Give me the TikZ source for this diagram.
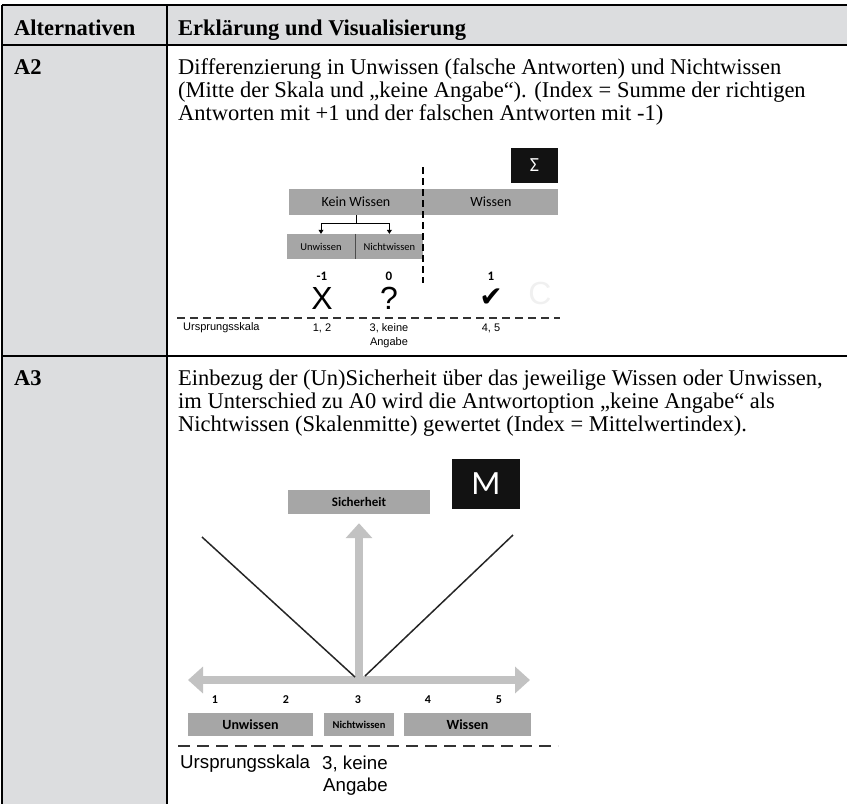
\documentclass[tikz,border=0pt]{standalone}
\usepackage{fontspec}
\setmainfont{Liberation Serif}
\newfontfamily\calib{Carlito}
\newfontfamily\arial{Liberation Sans}
\newfontfamily\dejavu{DejaVu Sans}
\usetikzlibrary{arrows.meta,positioning}

\definecolor{hdgray}{HTML}{DCDDDF}
\definecolor{bargray}{HTML}{A6A6A6}
\definecolor{arrgray}{HTML}{C2C2C2}

\begin{document}
\begin{tikzpicture}[x=1pt,y=-1pt,>={Triangle[width=5pt,length=4pt]},
   txt/.style={anchor=base west,inner sep=0pt,font=\fontsize{22.5}{23.3}\selectfont},
   hd/.style={txt,font=\fontsize{22.5}{23.3}\selectfont\bfseries},
   tab/.style={line width=1.2pt,black},
   bar/.style={fill=bargray,inner sep=0pt,font=\calib\fontsize{14}{14}\selectfont},
   sbar/.style={bar,font=\calib\fontsize{10.5}{10.5}\selectfont},
   bbar/.style={bar,font=\calib\fontsize{14}{14}\selectfont\bfseries},
   blk/.style={fill=black!93,text=white,inner sep=0pt},
   lbl/.style={inner sep=0pt,font=\arial\fontsize{11}{13}\selectfont},
   num/.style={inner sep=0pt,font=\calib\fontsize{13}{13}\selectfont\bfseries},
   big/.style={inner sep=0pt,font=\arial\fontsize{32}{32}\selectfont},
   garrow/.style={arrgray,line width=8pt,-{Triangle[width=26pt,length=15pt]}},
   vline/.style={line width=1.5pt,black!85}]
   \useasboundingbox (0,0) rectangle (847,804);

   % table
   \fill[hdgray] (2,5) rectangle (847,45);
   \fill[hdgray] (2,45) rectangle (167,804);
   \draw[tab] (2,5) -- (847,5);
   \draw[tab] (2,45) -- (847,45);
   \draw[tab] (2,356) -- (847,356);
   \draw[tab] (2,5) -- (2,804);
   \draw[tab] (167,5) -- (167,804);

   \node[hd] (halt) at (14,35)  {Alternativen};
   \node[hd] (herk) at (178,35) {Erklärung und Visualisierung};

   % A2
   \node[hd]  (a2)   at (14,74)    {A2};
   \node[txt] (a2l1) at (178,74)   {Differenzierung in Unwissen (falsche Antworten) und Nichtwissen};
   \node[txt] (a2l2) at (178,97.3) {(Mitte der Skala und „keine Angabe“). (Index = Summe der richtigen};
   \node[txt] (a2l3) at (178,120.6){Antworten mit +1 und der falschen Antworten mit -1)};

   \node[blk,minimum width=47,minimum height=35,font=\calib\fontsize{20}{20}\selectfont]
        (sig) at (534.5,165.5) {Σ};
   \node[bar,minimum width=134,minimum height=26] (kw) at (356,202) {Kein Wissen};
   \node[bar,minimum width=135,minimum height=26,right=0pt of kw] (w) {Wissen};
   \node[sbar,minimum width=68,minimum height=25] (uw) at (321,246.5) {Unwissen};
   \node[sbar,minimum width=68,minimum height=25,right=0pt of uw] (nw) {Nichtwissen};
   \draw[black!70,line width=0.8pt] (uw.north east) -- (uw.south east);
   \draw[line width=2.5pt,dash pattern=on 7pt off 4pt] (423,167) -- (423,283);

   \draw[line width=0.8pt] (kw.south) -- ++(0,8) coordinate (br);
   \draw[->,line width=0.8pt] (br) -| (uw.north);
   \draw[->,line width=0.8pt] (br) -| (nw.north);

   \node[num] (m1) at (322,276) {-1};
   \node[num] (m0) at (389,276) {0};
   \node[num] (p1) at (491,276) {1};
   \node[big] (kx) at (322,298) {X};
   \node[big] (kq) at (389,298) {?};
   \node[big,font=\dejavu\fontsize{28}{28}\selectfont] (kok) at (491,298) {✔};
   \node[big,text=black!6] (kc) at (540,293) {C};

   \draw[black!80,line width=1.5pt,dash pattern=on 8pt off 5pt] (177,318) -- (560,318);
   \node[lbl,anchor=west] (us2) at (183,328) {Ursprungsskala};
   \node[lbl] (s12) at (322,328) {1, 2};
   \node[lbl] (s3)  at (389,328) {3, keine};
   \node[lbl] (s3b) at (389,343) {Angabe};
   \node[lbl] (s45) at (491,328) {4, 5};

   % A3
   \node[hd]  (a3)   at (14,385)    {A3};
   \node[txt] (a3l1) at (178,385)   {Einbezug der (Un)Sicherheit über das jeweilige Wissen oder Unwissen,};
   \node[txt] (a3l2) at (178,408.3) {im Unterschied zu A0 wird die Antwortoption „keine Angabe“ als};
   \node[txt] (a3l3) at (178,431.6) {Nichtwissen (Skalenmitte) gewertet (Index = Mittelwertindex).};

   \node[blk,minimum width=68,minimum height=50,font=\calib\fontsize{34}{34}\selectfont]
        (mw) at (486,484) {M};
   \node[bar,minimum width=142,minimum height=24,font=\calib\fontsize{13}{13}\selectfont\bfseries]
        (sh) at (359,502) {Sicherheit};

   \coordinate (al) at (188,680);
   \coordinate (ar) at (530,680);
   \coordinate (ao) at (359,680);
   \draw[garrow,{Triangle[width=26pt,length=15pt]}-{Triangle[width=26pt,length=15pt]}] (al) -- (ar);
   \draw[garrow,shorten >=9pt] (ao) -- (sh.south);

   \coordinate (vl) at (202,537);
   \coordinate (vr) at (513,535);
   \coordinate (vlb) at (355,677);
   \coordinate (vrb) at (365,676);
   \draw[vline] (vl) -- (vlb);
   \draw[vline] (vr) -- (vrb);

   \foreach \n/\x in {1/215,2/286,3/358,4/428,5/499}
      \node[num,font=\calib\fontsize{12}{12}\selectfont\bfseries] (n\n) at (\x,700) {\n};

   \node[bbar,minimum width=125,minimum height=23] (uw3) at (250.5,724.5) {Unwissen};
   \node[bbar,minimum width=70,minimum height=23,font=\calib\fontsize{10.5}{10.5}\selectfont\bfseries]
        (nw3) at (359,724.5) {Nichtwissen};
   \node[bbar,minimum width=127,minimum height=23] (w3) at (467.5,724.5) {Wissen};

   \draw[black!80,line width=2pt,dash pattern=on 12pt off 7pt] (178,746) -- (558,746);
   \node[lbl,anchor=west,font=\arial\fontsize{18.7}{20}\selectfont] (us3) at (180,764) {Ursprungsskala};
   \node[lbl,anchor=west,font=\arial\fontsize{18.7}{20}\selectfont] (k3)  at (322,764) {3, keine};
   \node[lbl,anchor=west,font=\arial\fontsize{18.7}{20}\selectfont] (k3b) at (323,787) {Angabe};
\end{tikzpicture}
\end{document}
